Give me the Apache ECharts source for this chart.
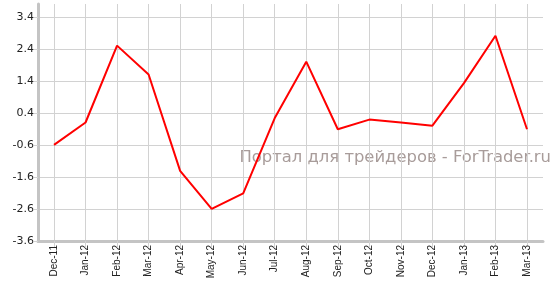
<!DOCTYPE html>
<html>
<head>
<meta charset="utf-8">
<script src="https://cdn.jsdelivr.net/npm/echarts@6/dist/echarts.min.js"></script>
<style>html,body{margin:0;padding:0;background:#fff}#c{width:557px;height:295px}</style>
</head>
<body>
<div id="c"></div>
<script>
var categories = ['Dec-11','Jan-12','Feb-12','Mar-12','Apr-12','May-12','Jun-12','Jul-12','Aug-12','Sep-12','Oct-12','Nov-12','Dec-12','Jan-13','Feb-13','Mar-13'];
var values = [-0.6, 0.1, 2.5, 1.6, -1.41, -2.6, -2.11, 0.24, 2.0, -0.11, 0.19, 0.1, 0.0, 1.33, 2.81, -0.11];
var yMin = -3.6, yMax = 3.4, yTop = 3.8, yStep = 1;
var watermark = 'Портал для трейдеров - ForTrader.ru';

var chart = echarts.init(document.getElementById('c'), null, {renderer: 'canvas'});
var gridLine = '#d2d2d2';
var axisCol = '#c4c4c4';
chart.setOption({
  animation: false,
  graphic: [{
    type: 'text', right: 6, top: 150, z: 0, zlevel: 0,
    style: {text: watermark, fill: '#a89c9a', font: '16.4px "DejaVu Sans"'}
  }],
  grid: [
    {left: 38, right: 14, top: 4, bottom: 54},
    {left: 38, right: 14, top: 17, bottom: 54},
    {left: 54, right: 30, top: 4, bottom: 54}
  ],
  xAxis: [
    {gridIndex: 0, type: 'category', data: categories, boundaryGap: true,
     axisLine: {show: true, onZero: false, lineStyle: {color: axisCol, width: 3}},
     axisTick: {show: false}, axisLabel: {show: false}, splitLine: {show: false}},
    {gridIndex: 1, type: 'category', data: categories, show: false},
    {gridIndex: 2, type: 'category', data: categories, boundaryGap: false,
     axisLine: {show: false, onZero: false},
     axisTick: {show: true, length: 6, lineStyle: {color: gridLine}},
     axisLabel: {rotate: 90, interval: 0, margin: 4, color: '#222', fontSize: 10, fontFamily: '"Liberation Sans", Arial'},
     splitLine: {show: true, lineStyle: {color: gridLine, width: 1}}}
  ],
  yAxis: [
    {gridIndex: 0, type: 'value', min: yMin, max: yTop,
     axisLine: {show: true, onZero: false, lineStyle: {color: axisCol, width: 3}},
     axisTick: {show: false}, axisLabel: {show: false}, splitLine: {show: false}},
    {gridIndex: 1, type: 'value', min: yMin, max: yMax, interval: yStep,
     axisLine: {show: false},
     axisTick: {show: true, length: 4, lineStyle: {color: gridLine}},
     axisLabel: {color: '#222', fontSize: 11, fontFamily: '"DejaVu Sans", Verdana', margin: 4,
       formatter: function (v) { return (Math.round(v * 10) / 10).toFixed(1); }},
     splitLine: {show: true, lineStyle: {color: gridLine, width: 1}}},
    {gridIndex: 2, type: 'value', min: yMin, max: yTop, show: false, splitLine: {show: false}}
  ],
  series: [{
    type: 'line', xAxisIndex: 2, yAxisIndex: 2, data: values,
    showSymbol: false, symbol: 'none', z: 5,
    lineStyle: {color: '#ff0000', width: 2}
  }]
});
</script>
</body>
</html>
